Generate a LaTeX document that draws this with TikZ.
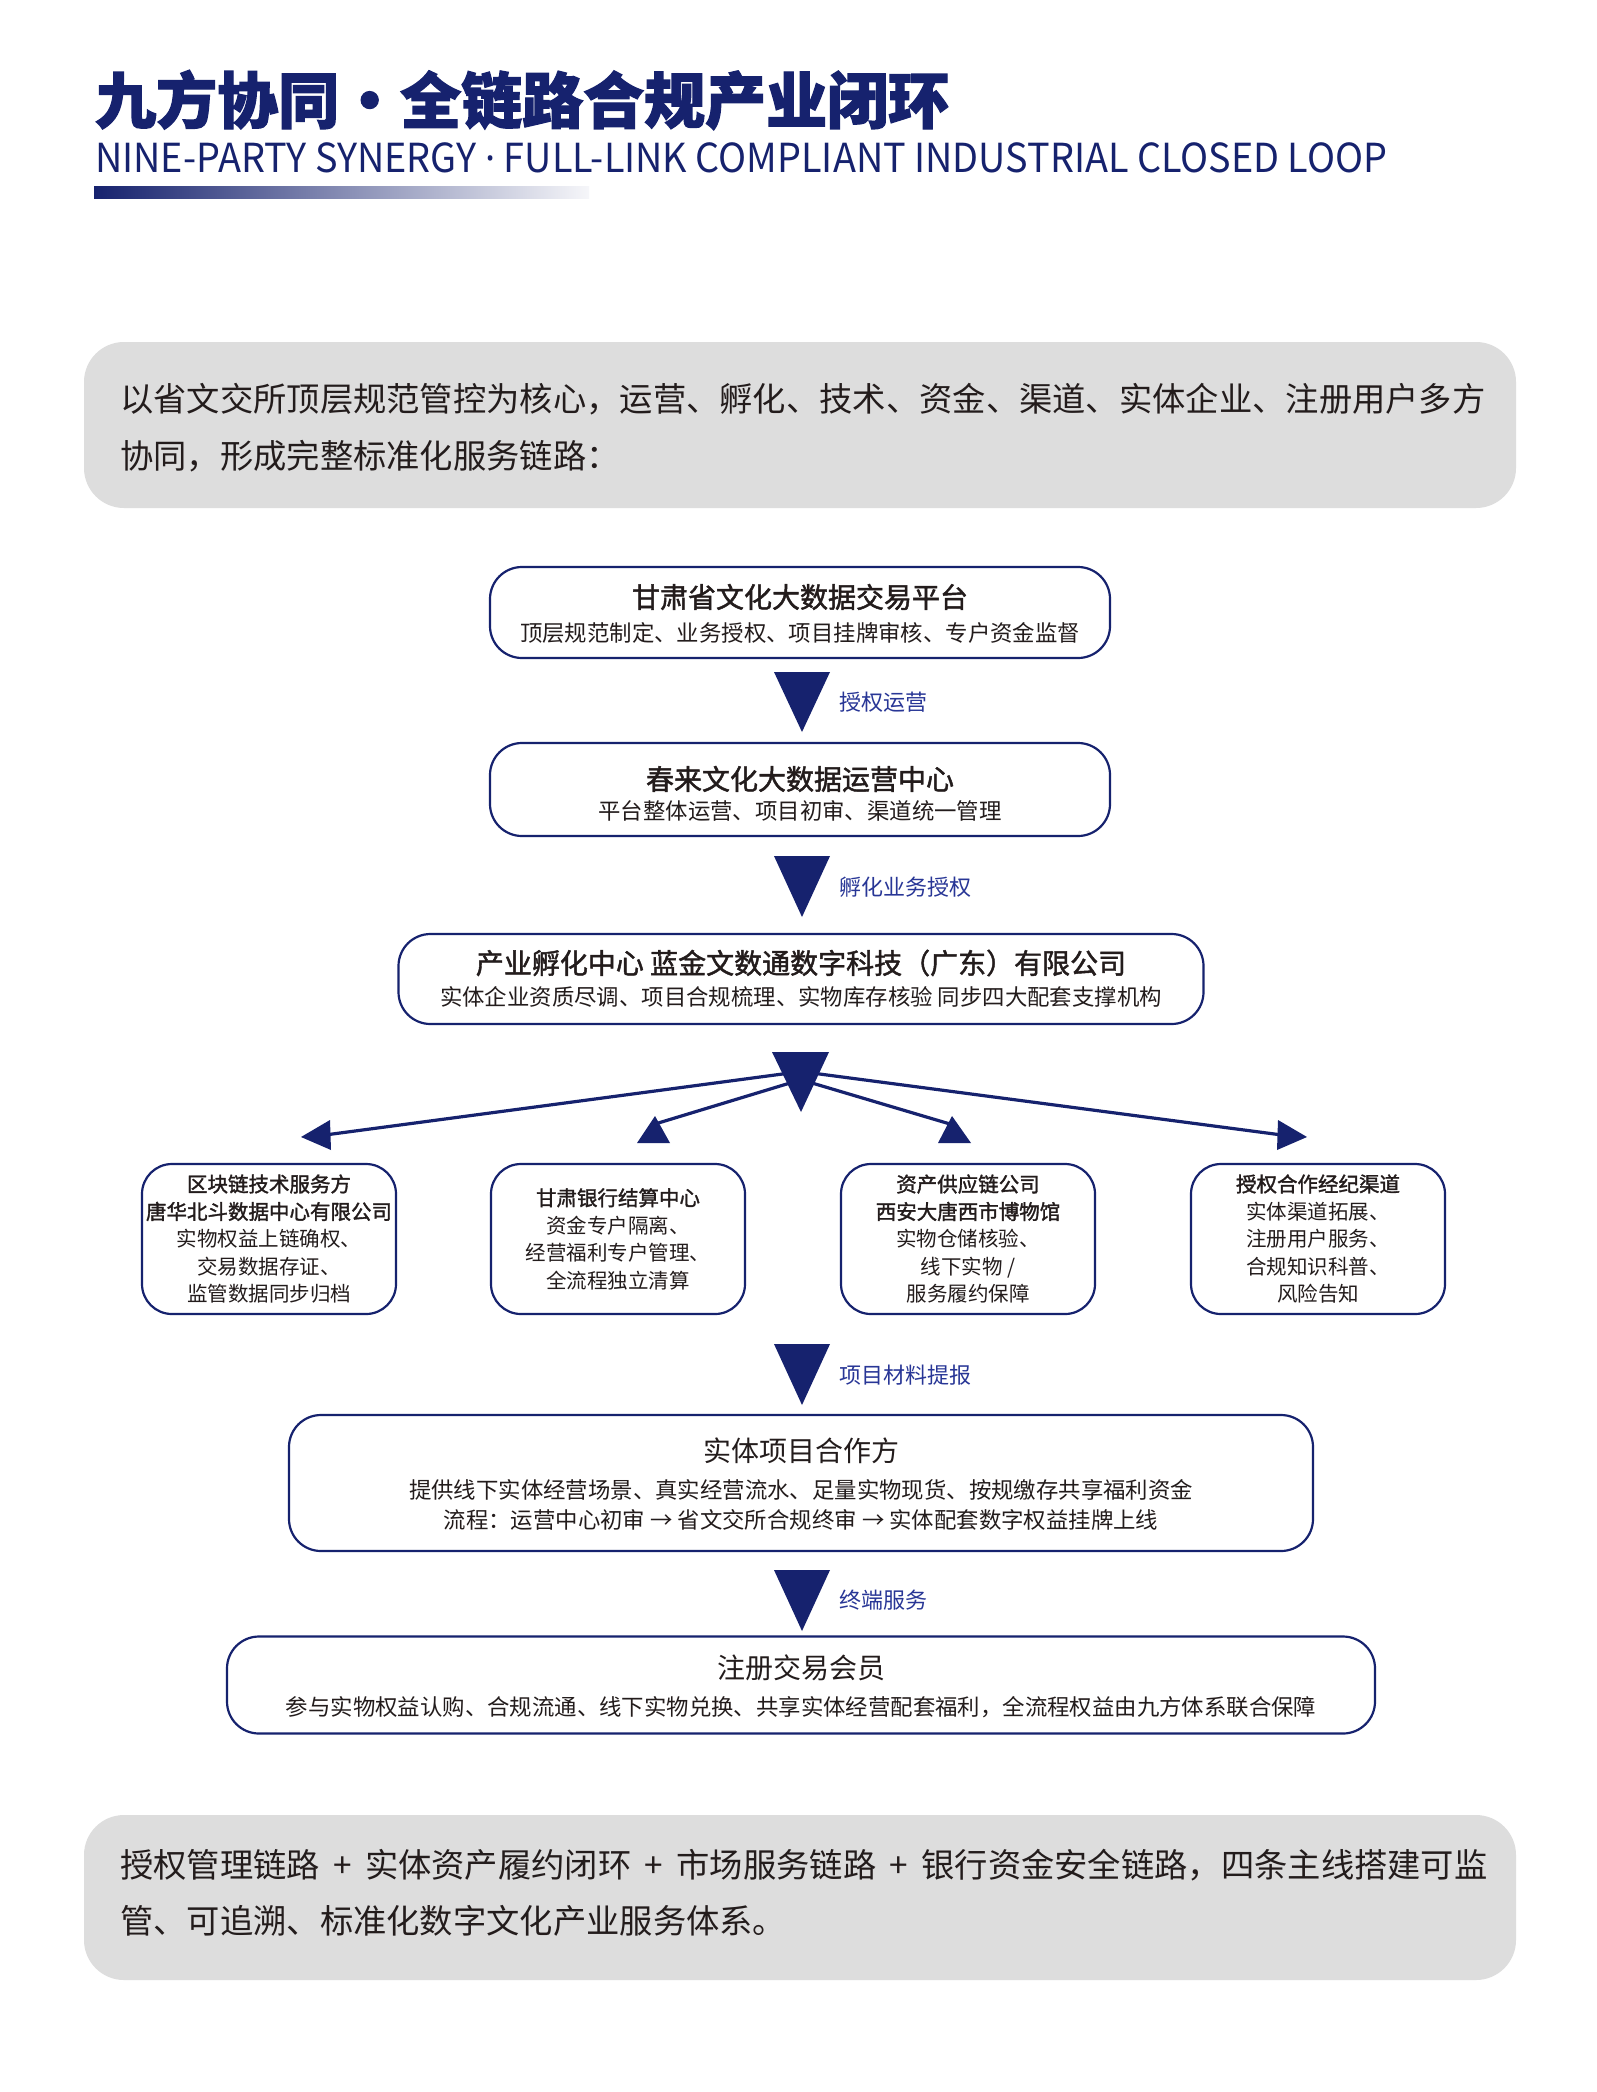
\documentclass[tikz,border=0pt]{standalone}
\usepackage{fontspec}
\setmainfont{Noto Sans CJK SC}
\newfontfamily\heavyfont{Noto Sans CJK SC}[BoldFeatures={FakeBold=2}]
\newfontfamily\medfont{Noto Sans CJK SC}[FakeBold=1.6]
\newfontfamily\dotfont{Noto Sans}
\definecolor{navy}{RGB}{22,34,110}
\definecolor{lblue}{RGB}{40,54,150}
\definecolor{greyfill}{RGB}{221,221,221}
\definecolor{ink}{RGB}{35,28,28}
\newcommand{\fsz}[1]{\fontsize{#1}{#1}\selectfont}
\newcommand{\plusgap}{\hspace{13.3pt}+\hspace{13.3pt}}
\tikzset{
  flowbox/.style={draw=navy, line width=2.2pt, rounded corners=32pt, fill=white, inner sep=0pt},
  smallbox/.style={draw=navy, line width=2.2pt, rounded corners=30pt, fill=white, inner sep=0pt,
     minimum width=254pt, minimum height=150pt},
  greyround/.style={fill=greyfill, rounded corners=40pt, inner sep=0pt},
  txt/.style={inner sep=0pt, text=ink},
  ttl/.style={txt, font=\fsz{28}\medfont},
  sub/.style={txt, font=\fsz{22.4}},
  lbl/.style={inner sep=0pt, anchor=west, text=lblue, font=\fsz{22}},
  smalltxt/.style={txt, align=center, font=\fontsize{20.5}{27.5}\selectfont},
  branch/.style={draw=navy, line width=3.2pt},
}
\begin{document}
\begin{tikzpicture}[x=1pt,y=-1pt]
\useasboundingbox (0,0) rectangle (1597,2092);
\fill[white] (0,0) rectangle (1597,2092);

% header
\node[inner sep=0pt, anchor=west, text=navy, font=\fsz{61}\heavyfont\bfseries] (title) at (95,100) {九方协同・全链路合规产业闭环};
\node[inner sep=0pt, anchor=west, text=navy, font=\fsz{40}] (subtitle) at (95,158) {\scalebox{0.945}[1]{NINE-PARTY SYNERGY {\dotfont·} FULL-LINK COMPLIANT INDUSTRIAL CLOSED LOOP}};
\shade[left color=navy, right color=navy!4] (94,187) rectangle (589,199);

% intro grey box
\node[greyround, minimum width=1432pt, minimum height=166pt] (intro) at (800,425) {};
\node[txt, anchor=west, font=\fsz{33.3}] (intro1) at (120,399) {以省文交所顶层规范管控为核心，运营、孵化、技术、资金、渠道、实体企业、注册用户多方};
\node[txt, anchor=west, font=\fsz{33.3}] (intro2) at (120,456) {协同，形成完整标准化服务链路：};

% box 1
\node[flowbox, minimum width=620pt, minimum height=91pt] (b1) at (800,612.5) {};
\node[ttl] (b1t) at (800,597) {甘肃省文化大数据交易平台};
\node[sub] (b1s) at (800,633) {顶层规范制定、业务授权、项目挂牌审核、专户资金监督};

% arrow 1
\coordinate (t1) at (802,672);
\fill[navy] (t1) ++(-28,0) -- ++(56,0) -- ++(-28,60) -- cycle;
\node[lbl] (l1) at (839,702) {授权运营};

% box 2
\node[flowbox, minimum width=620pt, minimum height=93pt] (b2) at (800,789.5) {};
\node[ttl] (b2t) at (800,779) {春来文化大数据运营中心};
\node[sub] (b2s) at (800,811) {平台整体运营、项目初审、渠道统一管理};

% arrow 2
\coordinate (t2) at (802,856);
\fill[navy] (t2) ++(-28,0) -- ++(56,0) -- ++(-28,61) -- cycle;
\node[lbl] (l2) at (839,887) {孵化业务授权};

% box 3
\node[flowbox, minimum width=805pt, minimum height=90pt] (b3) at (801,979) {};
\node[ttl] (b3t) at (801,963) {产业孵化中心 蓝金文数通数字科技（广东）有限公司};
\node[sub] (b3s) at (801,997) {实体企业资质尽调、项目合规梳理、实物库存核验 同步四大配套支撑机构};

% branching
\coordinate (hubL1) at (790,1073);
\coordinate (hubL2) at (790,1083);
\coordinate (hubR2) at (812,1083);
\coordinate (hubR1) at (812,1073);
\coordinate (eA) at (325,1135);
\coordinate (eB) at (655,1124);
\coordinate (eC) at (950,1124);
\coordinate (eD) at (1282,1135);
\draw[branch] (hubL1) -- (eA);
\draw[branch] (hubL2) -- (eB);
\draw[branch] (hubR2) -- (eC);
\draw[branch] (hubR1) -- (eD);
\fill[navy] (772,1052) -- (829,1052) -- (801,1112) -- cycle;
\fill[navy] (301,1137) -- (330,1120) -- (331,1150) -- cycle;
\fill[navy] (655,1116) -- (637,1143) -- (670,1143) -- cycle;
\fill[navy] (952,1116) -- (938,1143) -- (971,1143) -- cycle;
\fill[navy] (1307,1137) -- (1278,1120) -- (1277,1150) -- cycle;

% small boxes
\node[smallbox] (sA) at (269,1239) {};
\node[smalltxt] (sAt) at (sA) {{\medfont 区块链技术服务方}\\{\medfont 唐华北斗数据中心有限公司}\\实物权益上链确权、\\交易数据存证、\\监管数据同步归档};
\node[smallbox] (sB) at (618,1239) {};
\node[smalltxt] (sBt) at (sB) {{\medfont 甘肃银行结算中心}\\资金专户隔离、\\经营福利专户管理、\\全流程独立清算};
\node[smallbox] (sC) at (968,1239) {};
\node[smalltxt] (sCt) at (sC) {{\medfont 资产供应链公司}\\{\medfont 西安大唐西市博物馆}\\实物仓储核验、\\线下实物 /\\服务履约保障};
\node[smallbox] (sD) at (1318,1239) {};
\node[smalltxt] (sDt) at (sD) {{\medfont 授权合作经纪渠道}\\实体渠道拓展、\\注册用户服务、\\合规知识科普、\\风险告知};

% arrow 4
\coordinate (t4) at (802,1344);
\fill[navy] (t4) ++(-28,0) -- ++(56,0) -- ++(-28,61) -- cycle;
\node[lbl] (l4) at (839,1375) {项目材料提报};

% box 5
\node[flowbox, minimum width=1024pt, minimum height=136pt] (b5) at (801,1483) {};
\node[txt, font=\fsz{28}] (b5t) at (801,1451) {实体项目合作方};
\node[sub] (b5s1) at (801,1490) {提供线下实体经营场景、真实经营流水、足量实物现货、按规缴存共享福利资金};
\node[sub] (b5s2) at (801,1520) {流程：运营中心初审 → 省文交所合规终审 → 实体配套数字权益挂牌上线};

% arrow 5
\coordinate (t5) at (802,1570);
\fill[navy] (t5) ++(-28,0) -- ++(56,0) -- ++(-28,61) -- cycle;
\node[lbl] (l5) at (839,1600) {终端服务};

% box 6
\node[flowbox, minimum width=1148pt, minimum height=97pt] (b6) at (801,1685) {};
\node[txt, font=\fsz{28}] (b6t) at (801,1668) {注册交易会员};
\node[sub] (b6s) at (801,1707) {参与实物权益认购、合规流通、线下实物兑换、共享实体经营配套福利，全流程权益由九方体系联合保障};

% closing grey box
\node[greyround, minimum width=1432pt, minimum height=165pt] (outro) at (800,1897.5) {};
\node[txt, anchor=west, font=\fsz{33.3}] (outro1) at (120,1865) {授权管理链路\plusgap 实体资产履约闭环\plusgap 市场服务链路\plusgap 银行资金安全链路，四条主线搭建可监};
\node[txt, anchor=west, font=\fsz{33.3}] (outro2) at (120,1921) {管、可追溯、标准化数字文化产业服务体系。};
\end{tikzpicture}
\end{document}
